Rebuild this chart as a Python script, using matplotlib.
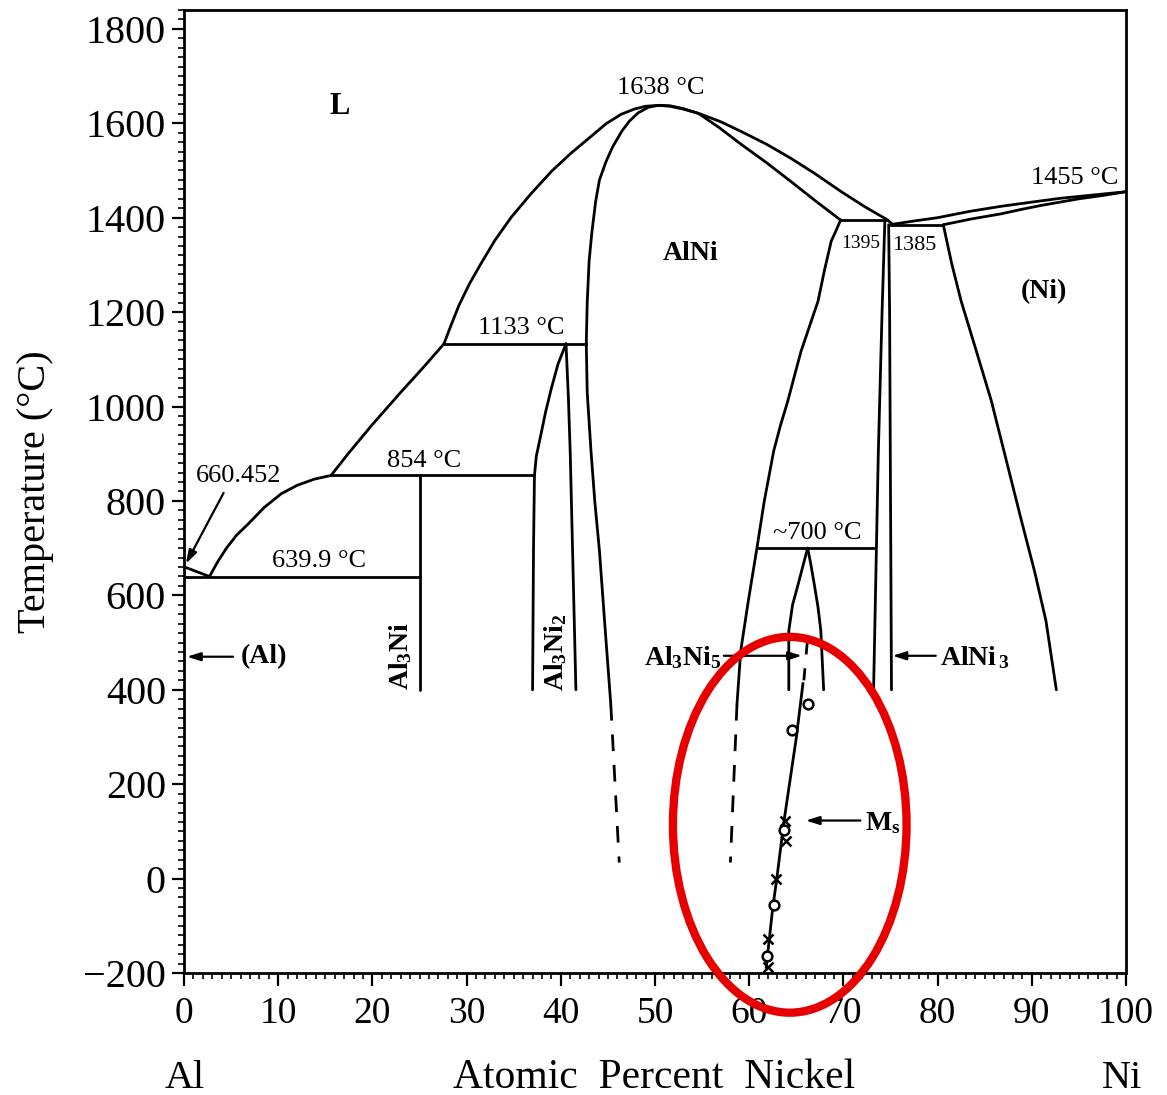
import matplotlib.pyplot as plt
from matplotlib.patches import Ellipse
from matplotlib.ticker import MultipleLocator

plt.rcParams["font.family"] = ["Liberation Serif", "DejaVu Serif"]
plt.rcParams["mathtext.fontset"] = "custom"
plt.rcParams["mathtext.rm"] = "Liberation Serif"
plt.rcParams["mathtext.bf"] = "Liberation Serif:bold"

# Al-Ni phase boundaries: composition in at.% Ni, temperature in deg C
liq_al_x = [0.0, 2.7]
liq_al_t = [660.452, 639.9]
liq_1_x = [2.7, 3.6, 4.5, 5.6, 6.8, 8.5, 10.3, 12.0, 13.8, 15.6]
liq_1_t = [639.9, 672, 700, 728, 751, 786, 815, 833, 846, 854]
liq_2_x = [15.6, 17.5, 20.0, 23.0, 25.5, 27.6]
liq_2_t = [854, 902, 962, 1030, 1085, 1133]
liq_3_x = [27.6, 28.3, 29.2, 30.3, 31.5, 33.0, 34.7, 36.8, 39.0, 41.1,
           43.2, 44.8, 46.4, 47.8, 49.0, 50.4]
liq_3_t = [1133, 1170, 1215, 1260, 1302, 1352, 1400, 1450, 1498, 1537,
           1572, 1599, 1619, 1630, 1636, 1638]
liq_4_x = [50.4, 51.6, 53.0, 54.9, 57.0, 59.1, 61.8, 64.4, 67.0, 69.7,
           72.2, 74.7, 75.2]
liq_4_t = [1638, 1637, 1631, 1619, 1603, 1583, 1556, 1526, 1493, 1456,
           1424, 1395, 1386]
liq_ni_x = [75.2, 77.5, 80.0, 83.3, 86.7, 90.0, 93.0, 96.5, 100.0]
liq_ni_t = [1386, 1393, 1400, 1413, 1424, 1433, 1441, 1448, 1455]
sol_ni_x = [80.6, 83.5, 86.7, 89.0, 91.0, 93.0, 95.0, 97.5, 100.0]
sol_ni_t = [1385, 1397, 1408, 1418, 1426, 1433, 1440, 1447, 1455]
solvus_ni_x = [80.6, 81.5, 82.5, 84.1, 85.7, 87.3, 88.9, 90.3, 91.5, 92.6]
solvus_ni_t = [1385, 1302, 1223, 1118, 1012, 885, 758, 650, 546, 400]

alni_left_x = [50.4, 49.3, 48.2, 47.3, 46.5, 45.5, 44.8, 44.1, 43.7, 43.3,
               43.0, 42.8, 42.7, 42.8, 43.2, 43.6, 44.1, 44.7, 45.3]
alni_left_t = [1638, 1634, 1622, 1605, 1584, 1550, 1519, 1480, 1435, 1370,
               1308, 1220, 1133, 1030, 906, 800, 694, 530, 370]
alni_left_dash_x = [45.3, 46.2]
alni_left_dash_t = [370, 34]
alni_sol_x = [50.4, 51.6, 53.0, 54.6, 56.8, 59.1, 61.8, 64.4, 67.0, 69.7]
alni_sol_t = [1638, 1636, 1630, 1621, 1591, 1556, 1517, 1477, 1436, 1395]
alni_right_x = [69.7, 69.2, 68.7, 68.0, 67.3, 66.4, 65.5, 64.8, 64.1,
                63.3, 62.6, 62.1, 61.6, 60.8, 59.9, 59.1, 58.7]
alni_right_t = [1395, 1372, 1350, 1290, 1223, 1170, 1117, 1065, 1012,
                959, 906, 853, 800, 698, 588, 483, 370]
alni_right_dash_x = [58.7, 58.0]
alni_right_dash_t = [370, 34]

al3ni2_left_x = [37.0, 37.1, 37.2, 37.4, 37.9, 38.4, 39.0, 39.7, 40.55]
al3ni2_left_t = [400, 700, 854, 895, 942, 990, 1039, 1090, 1133]
al3ni2_right_x = [40.55, 40.8, 41.0, 41.3, 41.6]
al3ni2_right_t = [1133, 1020, 900, 650, 400]
al3ni_x = [25.0, 25.0]
al3ni_t = [854, 400]

alni3_left_x = [74.4, 74.1, 73.7, 73.2]
alni3_left_t = [1395, 1200, 900, 400]
alni3_right_x = [74.8, 74.9, 75.0, 75.1]
alni3_right_t = [1385, 1200, 800, 400]

al3ni5_left_x = [64.2, 64.2, 64.6, 65.2, 65.8, 66.2]
al3ni5_left_t = [400, 525, 580, 624, 670, 700]
al3ni5_right_x = [66.2, 66.5, 66.9, 67.3, 67.6, 67.9]
al3ni5_right_t = [700, 670, 624, 575, 525, 400]

# invariant lines: (x_start, x_end, temperature)
invariants = [
    (0.0, 25.0, 639.9),
    (15.6, 37.2, 854),
    (27.6, 42.7, 1133),
    (69.7, 74.6, 1395),
    (74.9, 80.6, 1385),
    (60.8, 73.1, 700),
]

# martensite start line and measured points
ms_x = [65.7, 65.0, 63.7, 62.9, 62.5, 61.8]
ms_t = [413, 299, 123, -4, -61, -188]
ms_dash_x = [66.2, 65.8]
ms_dash_t = [510, 420]
ms_circle_x = [66.2, 64.5, 63.7, 62.6, 61.9]
ms_circle_t = [370, 315, 104, -55, -163]
ms_cross_x = [63.8, 63.9, 62.8, 62.0, 62.0]
ms_cross_t = [123, 80, 0, -129, -188]

x_ticks = list(range(0, 101, 10))
y_ticks = list(range(-200, 1801, 200))
y_tick_labels = ["\u2212200"] + [str(t) for t in y_ticks[1:]]

LW = 2.0


def draw_boundaries(ax):
    solid = [
        (liq_al_x, liq_al_t), (liq_1_x, liq_1_t), (liq_2_x, liq_2_t),
        (liq_3_x, liq_3_t), (liq_4_x, liq_4_t), (liq_ni_x, liq_ni_t),
        (sol_ni_x, sol_ni_t), (solvus_ni_x, solvus_ni_t),
        (alni_left_x, alni_left_t), (alni_sol_x, alni_sol_t),
        (alni_right_x, alni_right_t), (al3ni2_left_x, al3ni2_left_t),
        (al3ni2_right_x, al3ni2_right_t), (al3ni_x, al3ni_t),
        (alni3_left_x, alni3_left_t), (alni3_right_x, alni3_right_t),
        (al3ni5_left_x, al3ni5_left_t), (al3ni5_right_x, al3ni5_right_t),
    ]
    for xs, ts in solid:
        ax.plot(xs, ts, color="black", lw=LW, solid_capstyle="round",
                solid_joinstyle="round")

    for x0, x1, t in invariants:
        ax.plot([x0, x1], [t, t], color="black", lw=LW)

    for xs, ts in [(alni_left_dash_x, alni_left_dash_t),
                   (alni_right_dash_x, alni_right_dash_t),
                   (ms_dash_x, ms_dash_t)]:
        ax.plot(xs, ts, color="black", lw=LW, ls=(0, (6, 5)))


def draw_ms(ax):
    ax.plot(ms_x, ms_t, color="black", lw=LW)
    ax.plot(ms_circle_x, ms_circle_t, "o", ms=7, mfc="white",
            mec="black", mew=1.8)
    ax.plot(ms_cross_x, ms_cross_t, "x", ms=7, color="black", mew=1.8)


def arrow(ax, tail, head):
    ax.annotate("", xy=head, xytext=tail,
                arrowprops=dict(arrowstyle="-|>,head_length=0.8,head_width=0.25",
                                color="black", lw=1.6, shrinkA=0, shrinkB=0))


def draw_labels(ax):
    bold = dict(fontweight="bold", color="black")
    ax.text(16.5, 1636, "L", fontsize=22, ha="center", va="center", **bold)
    ax.text(53.8, 1325, "AlNi", fontsize=20, ha="center", va="center", **bold)
    ax.text(91.3, 1244, "(Ni)", fontsize=20, ha="center", va="center", **bold)
    ax.text(6.0, 470, "(Al)", fontsize=20, ha="left", va="center", **bold)
    ax.text(23.0, 472, r"$\mathbf{Al_3Ni}$", fontsize=20, rotation=90,
            ha="center", va="center")
    ax.text(39.5, 480, r"$\mathbf{Al_3Ni_2}$", fontsize=20, rotation=90,
            ha="center", va="center")
    ax.text(57.0, 468, r"$\mathbf{Al_3Ni_5}$", fontsize=20,
            ha="right", va="center")
    ax.text(80.3, 468, r"$\mathbf{AlNi_{\,3}}$", fontsize=20,
            ha="left", va="center")
    ax.text(72.3, 118, r"$\mathbf{M_s}$", fontsize=20, ha="left", va="center")

    arrow(ax, (5.2, 470), (0.3, 470))
    arrow(ax, (4.2, 817), (0.2, 667))
    arrow(ax, (57.3, 472), (65.6, 472))
    arrow(ax, (79.8, 472), (75.2, 472))
    arrow(ax, (71.8, 123), (66.0, 123))

    num = dict(fontsize=19, color="black", va="center")
    ax.text(50.6, 1674, "1638 \u00b0C", ha="center", **num)
    ax.text(99.2, 1483, "1455 \u00b0C", ha="right", **num)
    ax.text(1.3, 852, "660.452", ha="left", **num)
    ax.text(14.3, 672, "639.9 \u00b0C", ha="center", **num)
    ax.text(25.5, 885, "854 \u00b0C", ha="center", **num)
    ax.text(35.8, 1167, "1133 \u00b0C", ha="center", **num)
    ax.text(67.2, 733, "~700 \u00b0C", ha="center", **num)
    ax.text(71.8, 1345, "1395", ha="center", fontsize=14, color="black",
            va="center")
    ax.text(77.5, 1342, "1385", ha="center", fontsize=16, color="black",
            va="center")


def plot_diagram():
    fig = plt.figure(figsize=(11.67, 10.95), dpi=100)
    ax = fig.add_axes([0.1577, 0.1114, 0.8072, 0.8795])
    ax.set_xlim(0, 100)
    ax.set_ylim(-200, 1840)

    draw_boundaries(ax)
    draw_ms(ax)
    draw_labels(ax)

    # highlight around the martensite region
    ring = Ellipse((64.3, 114), 24.8, 796, fill=False, edgecolor="#e60000",
                   lw=6, clip_on=False, zorder=5)
    ax.add_patch(ring)

    for side in ax.spines.values():
        side.set_linewidth(2)
    ax.set_xticks(x_ticks)
    ax.set_yticks(y_ticks)
    ax.set_yticklabels(y_tick_labels)
    ax.xaxis.set_minor_locator(MultipleLocator(1))
    ax.yaxis.set_minor_locator(MultipleLocator(20))
    ax.tick_params(which="major", direction="out", length=9, width=1.6)
    ax.tick_params(which="minor", direction="out", length=4, width=1.2)
    ax.tick_params(axis="x", which="major", labelsize=27, pad=8)
    ax.tick_params(axis="y", which="major", labelsize=29, pad=4)

    ax.set_ylabel("Temperature (\u00b0C)", fontsize=29)
    ax.yaxis.set_label_coords(-0.138, 0.5)
    y_row = 1 - 1078 / 1095
    fig.text(185 / 1167, y_row, "Al", fontsize=29, ha="center", va="center")
    fig.text(1122 / 1167, y_row, "Ni", fontsize=29, ha="center", va="center")
    fig.text(654 / 1167, y_row, "Atomic  Percent  Nickel", fontsize=30,
             ha="center", va="center")

    fig.savefig("out.png", dpi=100, facecolor="white")


plot_diagram()
